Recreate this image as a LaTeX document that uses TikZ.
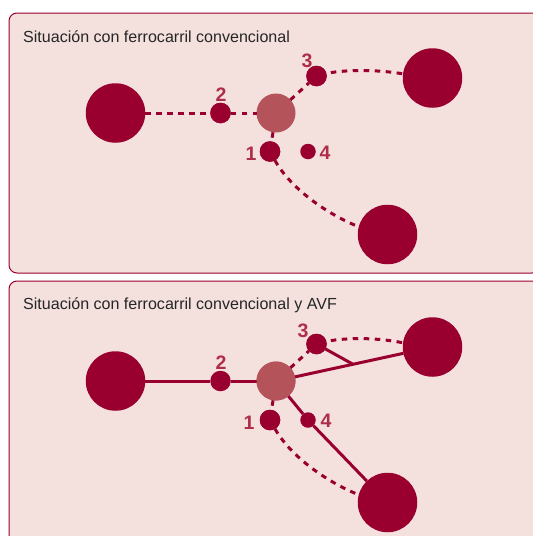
\documentclass[tikz,border=0pt]{standalone}
\usepackage{fontspec}
\setmainfont{Liberation Sans}
\definecolor{wine}{HTML}{99002F}
\definecolor{hub}{HTML}{B5535A}
\definecolor{panelbg}{HTML}{F4E1DE}
\definecolor{numc}{HTML}{AE2E4A}
\tikzset{
  panel/.style={draw=wine,fill=panelbg,line width=1pt,rounded corners=8pt},
  big/.style={circle,fill=wine,minimum size=59.5pt,inner sep=0pt,outer sep=0pt},
  hubn/.style={circle,fill=hub,minimum size=39pt,inner sep=0pt,outer sep=0pt},
  med/.style={circle,fill=wine,minimum size=20.5pt,inner sep=0pt,outer sep=0pt},
  sml/.style={circle,fill=wine,minimum size=15.5pt,inner sep=0pt,outer sep=0pt},
  num/.style={text=numc,font=\fontsize{19.5}{20}\selectfont\bfseries,inner sep=0pt},
  ttl/.style={text=black!85,font=\fontsize{16.05}{18}\selectfont,anchor=west,inner sep=0pt},
  dline/.style={draw=wine,line width=3pt,dash pattern=on 5.5pt off 5.5pt},
  dcurve/.style={dline,dash phase=6.5pt},
  sline/.style={draw=wine,line width=3pt},
}
\begin{document}
\begin{tikzpicture}[x=1pt,y=-1pt]
\useasboundingbox (0,0) rectangle (533,536);
\clip (0,0) rectangle (533,536);
\fill[white] (0,0) rectangle (533,536);
% panels
\path[panel] (9,13) rectangle (540,273);
\path[panel] (9,281) rectangle (540,560);
\node[ttl] (t1) at (23,36.7) {Situación con ferrocarril convencional};
\node[ttl] (t2) at (23,305.2) {Situación con ferrocarril convencional y AVF};
% top panel nodes
\node[big] (a) at (115.5,113) {};
\node[big] (b) at (432.5,78) {};
\node[big] (c) at (387.5,234.5) {};
\node[med] (n2) at (220.5,113) {};
\node[med] (n3) at (316.5,76) {};
\node[med] (n1) at (270,151.5) {};
\node[sml] (n4) at (308,151.5) {};
\node[hubn] (hb) at (276,113) {};
% top connectors
\draw[dline] (a) -- (n2);
\draw[dline] (n2) -- (hb);
\draw[dline] (hb) -- (n3);
\draw[dcurve] (n3.15) .. controls (350,69) and (380,70) .. (b.172);
\draw[dline] (hb) -- (n1);
\draw[dline] (n1) .. controls (288,184) and (320,211) .. (c.165);
\node[med] at (n2) {};
\node[med] at (n3) {};
\node[med] at (n1) {};
\node[num] (l2) at (221,95) {2};
\node[num] (l3) at (307,60.5) {3};
\node[num] (l1) at (251,153.5) {1};
\node[num] (l4) at (325,153) {4};
% bottom panel nodes
\node[big] (A) at (115.5,381) {};
\node[big] (B) at (432.5,347) {};
\node[big] (C) at (387.5,502.5) {};
\node[med] (N2) at (220.5,381) {};
\node[med] (N3) at (316.5,344) {};
\node[med] (N1) at (270,420) {};
\node[sml] (N4) at (308,420) {};
\node[hubn] (HB) at (276,381) {};
\coordinate (J) at (352.5,364);
% bottom connectors
\draw[sline] (A) -- (N2);
\draw[sline] (N2) -- (HB);
\draw[sline] (HB) -- (B);
\draw[sline] (N3) -- (J);
\draw[sline] (HB) -- (N4);
\draw[sline] (N4) -- (C);
\draw[dline] (HB) -- (N3);
\draw[dcurve] (N3.15) .. controls (350,337) and (380,338) .. (B.172);
\draw[dline] (HB) -- (N1);
\draw[dline] (N1) .. controls (288,452) and (320,479) .. (C.165);
\node[med] at (N3) {};
\node[med] at (N1) {};
\node[hubn] at (HB) {};
\node[num] (L2) at (221,363) {2};
\node[num] (L3) at (303,331) {3};
\node[num] (L1) at (249,422.5) {1};
\node[num] (L4) at (326,421) {4};
\end{tikzpicture}
\end{document}
